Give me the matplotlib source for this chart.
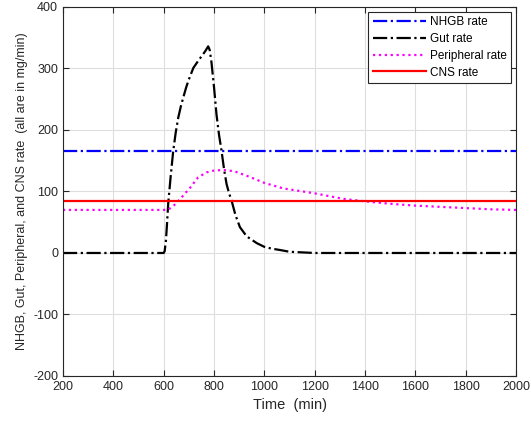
import numpy as np
import matplotlib
matplotlib.use("Agg")
import matplotlib.pyplot as plt

plt.rcParams['font.family'] = ['Liberation Sans', 'DejaVu Sans']
plt.rcParams['axes.unicode_minus'] = False

# values (time in min, rates in mg/min)
t_flat = [200, 2000]
nhgb = [166, 166]
cns = [84, 84]

t_gut = [200, 600, 604, 609, 613, 618, 628, 638, 648, 658, 668, 678, 690, 700,
         718, 740, 751, 765, 777, 783, 790, 800, 810, 820, 830, 840, 850, 860,
         870, 885, 903, 930, 970, 1000, 1030, 1060, 1100, 1200, 2000]
gut = [0, 0, 3, 20, 45, 80, 125, 166, 196, 220, 238, 253, 270, 282,
       301, 314, 320, 328, 336, 330, 310, 270, 225, 192, 166, 136, 112, 97,
       85, 62, 42, 27, 16, 10, 7, 5, 2, 0, 0]

t_per = [200, 600, 620, 640, 666, 705, 737, 770, 800, 837, 880, 940, 1000,
         1075, 1200, 1314, 1400, 1500, 1600, 1700, 1800, 1900, 2000]
per = [70, 70, 71, 77, 88, 106, 123, 131, 134, 135, 133, 124, 114,
       105, 97, 88, 84, 80, 77, 75, 73, 71, 70]

fig = plt.figure(figsize=(5.31, 4.26), dpi=100)
ax = fig.add_axes([0.1186, 0.1174, 0.8532, 0.8662])

ax.plot(t_flat, nhgb, color='blue', ls='-.', lw=1.6, label='NHGB rate')
ax.plot(t_gut, gut, color='black', ls='-.', lw=1.6, label='Gut rate')
ax.plot(t_per, per, color='magenta', ls=':', lw=1.6, label='Peripheral rate')
ax.plot(t_flat, cns, color='red', ls='-', lw=1.6, label='CNS rate')

ax.set_xlim(200, 2000)
ax.set_ylim(-200, 400)
ax.set_xticks(np.arange(200, 2001, 200))
ax.set_yticks(np.arange(-200, 401, 100))
ax.grid(True, color='#dedede', lw=0.8)
ax.tick_params(direction='in', top=True, right=True, labelsize=9,
               colors='#262626', length=4)
for s in ax.spines.values():
    s.set_color('#262626')

ax.set_xlabel('Time  (min)', fontsize=10.5, color='#262626')
ax.set_ylabel('NHGB, Gut, Peripheral, and CNS rate  (all are in mg/min)',
              fontsize=9, color='#262626')

leg = ax.legend(loc='upper right', fontsize=8.5, handlelength=4.5,
                fancybox=False, edgecolor='#262626', framealpha=1,
                borderaxespad=0.4, labelspacing=0.4, handletextpad=0.3)
leg.get_frame().set_linewidth(0.8)

fig.savefig('out.png', dpi=100)
